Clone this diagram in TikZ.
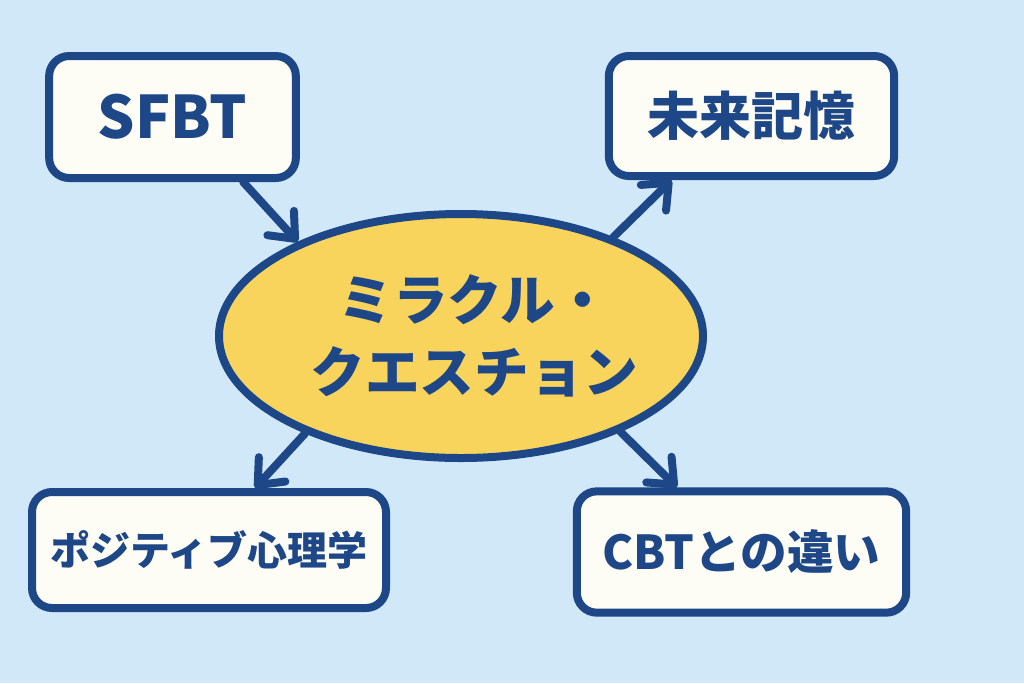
\documentclass[tikz,border=0pt]{standalone}
\usepackage{fontspec}
\setmainfont{Noto Sans CJK JP}
\usepackage{tikz}
\usetikzlibrary{arrows.meta,shapes.geometric}
\definecolor{colorbg}{HTML}{D1E8F8}
\definecolor{colorln}{HTML}{1D4786}
\definecolor{colorbx}{HTML}{FDFCF5}
\definecolor{coloryl}{HTML}{F9D45C}
\tikzset{
  boxnd/.style={draw=colorln, fill=colorbx, line width=6pt, rounded corners=15pt,
    text=colorln, font=\bfseries, inner sep=0pt},
  ellnd/.style={ellipse, draw=colorln, fill=coloryl, line width=6pt,
    text=colorln, font=\bfseries\fontsize{41pt}{54pt}\selectfont,
    inner sep=0pt, align=center},
  edgeto/.style={colorln, line width=6pt, line cap=round,
    -{Straight Barb[round, length=16pt, width=27pt]}}
}
\newcommand\shiftr[1]{\hspace*{10pt}#1\hspace*{-10pt}}

\begin{document}
\begin{tikzpicture}[x=0.75pt, y=-0.75pt]
\fill[colorbg] (0,0) rectangle (1024,683);
\useasboundingbox (0,0) rectangle (1024,683);
\node[ellnd, minimum width=363pt, minimum height=183pt] (mq) at (461,336)
  {\shiftr{ミラクル・}\\\shiftr{クエスチョン}};
\node[boxnd, minimum width=185pt, minimum height=91.5pt] (sf) at (172.5,117)
  {\fontsize{44pt}{50pt}\selectfont SFBT};
\node[boxnd, minimum width=214pt, minimum height=90pt] (mk) at (751.5,116)
  {\fontsize{39pt}{46pt}\selectfont 未来記憶};
\node[boxnd, minimum width=265.5pt, minimum height=87pt] (ps) at (209,550)
  {\fontsize{30pt}{36pt}\selectfont ポジティブ心理学};
\node[boxnd, minimum width=247pt, minimum height=91pt] (cb) at (741.5,552)
  {\fontsize{35pt}{42pt}\selectfont CBTとの違い};
\draw[edgeto] ([xshift=53pt]sf.south) -- (mq.150);
\draw[edgeto] (mq.33) -- ([xshift=-60pt]mk.south);
\draw[edgeto] (mq.212) -- ([xshift=34.5pt]ps.north);
\draw[edgeto] (mq.-31) -- ([xshift=-48.4pt]cb.north);
\end{tikzpicture}
\end{document}
